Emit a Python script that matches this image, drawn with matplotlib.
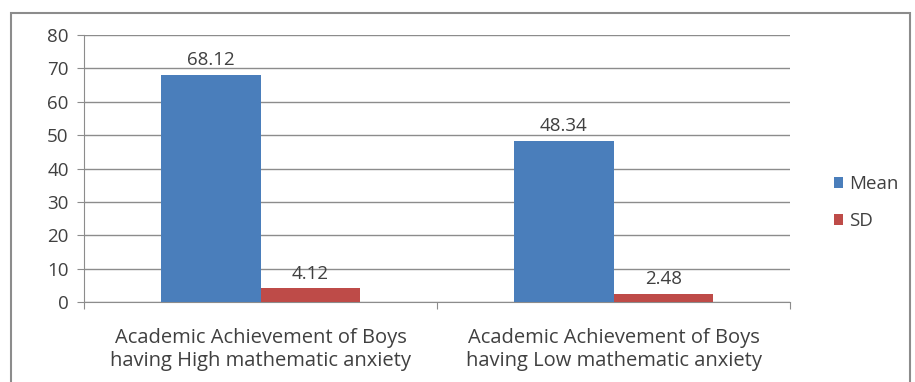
import matplotlib.pyplot as plt
import numpy as np
from matplotlib.patches import Rectangle

plt.rcParams['font.family'] = ['Open Sans', 'DejaVu Sans']

categories = ["Academic Achievement of Boys\nhaving High mathematic anxiety",
              "Academic Achievement of Boys\nhaving Low mathematic anxiety"]
series_names = ["Mean", "SD"]
mean_values = [68.12, 48.34]
sd_values = [4.12, 2.48]
colors = ["#4a7ebb", "#be4b48"]
text_color = "#404040"

fig = plt.figure(figsize=(9.15, 3.82), dpi=100)
ax = fig.add_axes([84 / 915, 1 - 302 / 382, (790 - 84) / 915, (302 - 35) / 382])

# outer chart frame
fig.patches.append(Rectangle((11 / 915, -0.05), 0.995 - 11 / 915, 1 - 13 / 382 + 0.05,
                             transform=fig.transFigure, fill=False,
                             edgecolor="#8c8c8c", linewidth=1.5))

x = np.arange(len(categories))
width = 0.283
for i, (name, vals) in enumerate(zip(series_names, [mean_values, sd_values])):
    pos = x + (i - 0.5) * width
    bars = ax.bar(pos, vals, width, color=colors[i], label=name, zorder=3)
    for b, v in zip(bars, vals):
        ax.annotate(f"{v:.2f}", (b.get_x() + b.get_width() / 2, v),
                    xytext=(0, 4), textcoords="offset points",
                    ha="center", va="bottom", fontsize=13.5, color=text_color)

ax.set_xlim(-0.5, 1.5)
ax.set_ylim(0, 80)
ax.set_yticks(range(0, 81, 10))
ax.grid(axis="y", color="#8c8c8c", linewidth=1, zorder=0)
ax.set_xticks([-0.5, 0.5, 1.5], minor=False)
ax.set_xticklabels([])
ax.set_xticks(x, minor=True)
ax.set_xticklabels(categories, minor=True, fontsize=14.5, color=text_color,
                   linespacing=1.2)
ax.tick_params(axis="x", which="minor", length=0, pad=19)
ax.tick_params(axis="x", which="major", length=5, color="#8c8c8c")
ax.tick_params(axis="y", length=5, color="#8c8c8c", labelsize=13.5,
               labelcolor=text_color, pad=6)
for side in ["top", "right"]:
    ax.spines[side].set_visible(False)
for side in ["left", "bottom"]:
    ax.spines[side].set_color("#8c8c8c")

ax.legend(loc="center left", bbox_to_anchor=(817 / 915, 0.47), bbox_transform=fig.transFigure,
          frameon=False, fontsize=13.5, handlelength=0.5, handleheight=0.5,
          handletextpad=0.3, labelspacing=1.0, labelcolor=text_color)

fig.savefig("out.png", dpi=100)
